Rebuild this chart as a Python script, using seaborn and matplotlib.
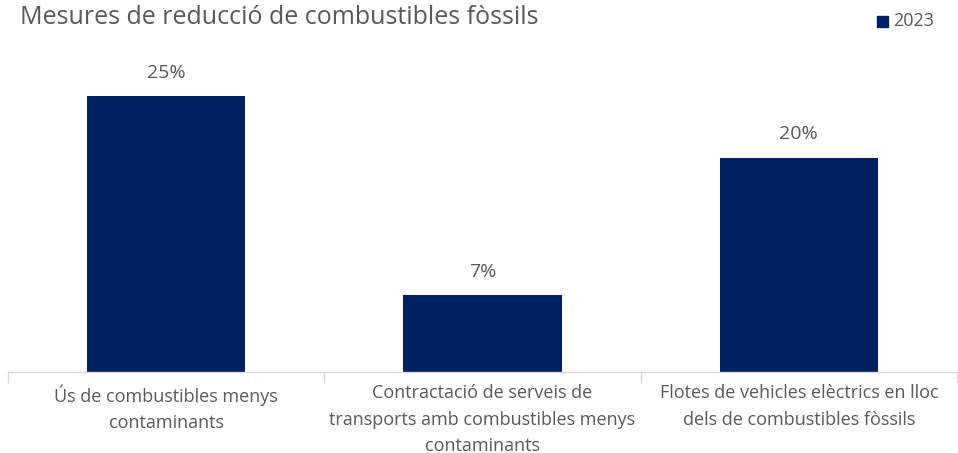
import matplotlib
matplotlib.use("Agg")
import matplotlib.pyplot as plt
import seaborn as sns
import pandas as pd

# Data
categories = [
    "Ús de combustibles menys\ncontaminants",
    "Contractació de serveis de\ntransports amb combustibles menys\ncontaminants",
    "Flotes de vehicles elèctrics en lloc\ndels de combustibles fòssils",
]
values_2023 = [25.1, 7.0, 19.5]
series_name = "2023"
title = "Mesures de reducció de combustibles fòssils"

BAR_COLOR = "#002060"
TEXT_COLOR = "#595959"
AXIS_COLOR = "#d9d9d9"

sns.set_theme(style="white")
plt.rcParams["font.family"] = ["Open Sans", "DejaVu Sans"]

df = pd.DataFrame({"cat": categories, "val": values_2023, "serie": series_name})

fig = plt.figure(figsize=(9.58, 4.53), dpi=100)
ax = fig.add_axes([8 / 958, 1 - 372 / 453, 949 / 958, 330 / 453])

sns.barplot(data=df, x="cat", y="val", hue="serie", palette=[BAR_COLOR],
            width=0.5, saturation=1, linewidth=0, ax=ax, legend=False)

ax.set_ylim(0, 30)
ax.set_xlim(-0.5, 2.5)
ax.set_xlabel("")
ax.set_ylabel("")
ax.set_yticks([])
for s in ["top", "right", "left"]:
    ax.spines[s].set_visible(False)
ax.spines["bottom"].set_color(AXIS_COLOR)
ax.spines["bottom"].set_linewidth(1)

# category separators as tick marks
ax.set_xticks([-0.5, 0.5, 1.5, 2.5], minor=True)
ax.tick_params(axis="x", which="minor", length=8, color=AXIS_COLOR, width=1, bottom=True)
ax.tick_params(axis="x", which="major", length=0, pad=9)
ax.set_xticks(range(len(categories)))
ax.set_xticklabels(categories, fontsize=13, color=TEXT_COLOR, linespacing=1.58)

for i, v in enumerate(values_2023):
    ax.text(i, v + 1.3, f"{v:.0f}%", ha="center", va="bottom", fontsize=14, color=TEXT_COLOR)

fig.text(20 / 958, 1 - 5 / 453, title, ha="left", va="top", fontsize=18, color=TEXT_COLOR)

# legend
fig.patches.append(plt.Rectangle((877 / 958, 1 - 27 / 453), 11 / 958, 11 / 453,
                                 transform=fig.transFigure, color=BAR_COLOR))
fig.text(893 / 958, 1 - 21 / 453, series_name, ha="left", va="center", fontsize=13,
         color=TEXT_COLOR)

fig.savefig("out.png", dpi=100, facecolor="white")
